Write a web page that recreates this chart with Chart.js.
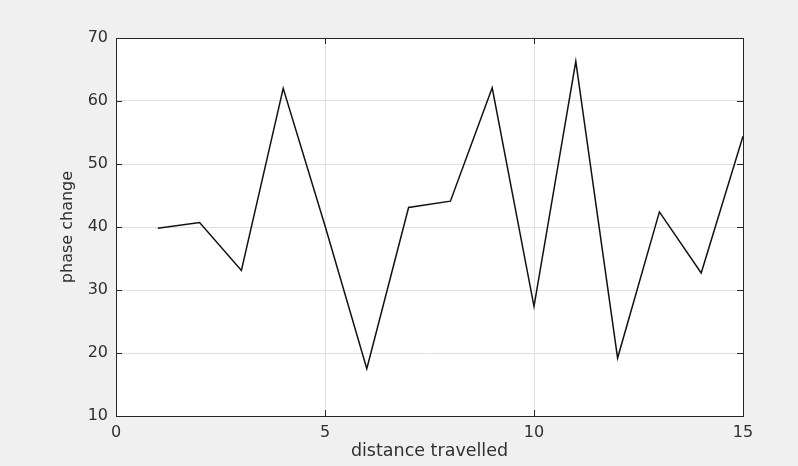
<!DOCTYPE html>
<html>
<head>
<meta charset="utf-8">
<script src="https://cdn.jsdelivr.net/npm/chart.js@4"></script>
<style>
  html, body { margin: 0; padding: 0; background: #f0f0f0; }
  #wrap { width: 798px; height: 466px; }
</style>
</head>
<body>
<div id="wrap"><canvas id="phaseChart" width="798" height="466"></canvas></div>
<script>
const distance = [1, 2, 3, 4, 5, 6, 7, 8, 9, 10, 11, 12, 13, 14, 15];
const phaseChange = [39.8, 40.7, 33.1, 62.0, 40.2, 17.5, 43.1, 44.1, 62.1, 27.4, 66.3, 19.2, 42.4, 32.7, 54.4];
const xTicks = [0, 5, 10, 15];
const yTicks = [10, 20, 30, 40, 50, 60, 70];

const font = '"DejaVu Sans", Arial, sans-serif';

// white axes box, frame and inward tick marks like the original
const axesBox = {
    id: 'axesBox',
    beforeDraw(chart) {
        const { ctx, chartArea: a } = chart;
        ctx.save();
        ctx.fillStyle = '#ffffff';
        ctx.fillRect(a.left, a.top, a.right - a.left, a.bottom - a.top);
        ctx.restore();
    },
    afterDraw(chart) {
        const { ctx, chartArea: a, scales } = chart;
        ctx.save();
        ctx.strokeStyle = '#262626';
        ctx.lineWidth = 1;
        ctx.strokeRect(a.left + 0.5, a.top + 0.5, a.right - a.left, a.bottom - a.top);
        ctx.beginPath();
        yTicks.forEach(v => {
            const y = Math.round(scales.y.getPixelForValue(v)) + 0.5;
            ctx.moveTo(a.left, y); ctx.lineTo(a.left + 6, y);
            ctx.moveTo(a.right, y); ctx.lineTo(a.right - 6, y);
        });
        xTicks.forEach(v => {
            const x = Math.round(scales.x.getPixelForValue(v)) + 0.5;
            ctx.moveTo(x, a.bottom); ctx.lineTo(x, a.bottom - 6);
            ctx.moveTo(x, a.top); ctx.lineTo(x, a.top + 6);
        });
        ctx.stroke();
        ctx.restore();
    }
};

new Chart(document.getElementById('phaseChart'), {
    type: 'line',
    data: {
        datasets: [{
            data: distance.map((d, i) => ({ x: d, y: phaseChange[i] })),
            borderColor: '#111111',
            borderWidth: 1.5,
            pointRadius: 0,
            tension: 0,
            fill: false
        }]
    },
    options: {
        responsive: false,
        animation: false,
        layout: { padding: { left: 0, top: 38, right: 55, bottom: 0 } },
        plugins: { legend: { display: false }, tooltip: { enabled: false } },
        scales: {
            x: {
                type: 'linear',
                min: 0, max: 15,
                afterBuildTicks: s => { s.ticks = xTicks.map(v => ({ value: v })); },
                afterFit: s => { s.height = 50; },
                grid: { color: '#e0e0e0', lineWidth: 1, drawTicks: false },
                border: { display: false },
                ticks: { color: '#303030', font: { family: font, size: 16 }, padding: 7, maxRotation: 0 },
                title: { display: true, text: 'distance travelled', color: '#303030',
                         font: { family: font, size: 17.5 }, padding: { top: 4, bottom: 4 } }
            },
            y: {
                min: 10, max: 70,
                afterBuildTicks: s => { s.ticks = yTicks.map(v => ({ value: v })); },
                afterFit: s => { s.width = 116; },
                grid: { color: '#e0e0e0', lineWidth: 1, drawTicks: false },
                border: { display: false },
                ticks: { color: '#303030', font: { family: font, size: 16 }, padding: 8 },
                title: { display: true, text: 'phase change', color: '#303030',
                         font: { family: font, size: 16 }, padding: { top: 58, bottom: 0 } }
            }
        }
    },
    plugins: [axesBox]
});
</script>
</body>
</html>
